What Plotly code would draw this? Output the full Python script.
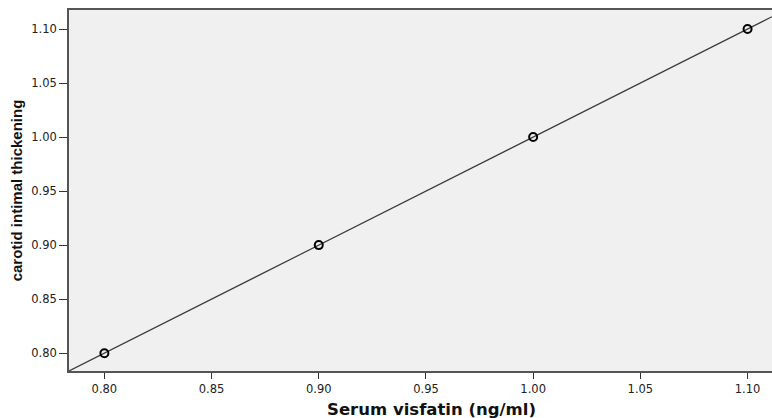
import numpy as np
import plotly.graph_objects as go

serum_visfatin = [0.80, 0.90, 1.00, 1.10]
carotid_thickening = [0.80, 0.90, 1.00, 1.10]
tick_vals = [0.80, 0.85, 0.90, 0.95, 1.00, 1.05, 1.10]
tick_text = ["0.80", "0.85", "0.90", "0.95", "1.00", "1.05", "1.10"]
x_title = "Serum visfatin (ng/ml)"
y_title = "carotid intimal thickening"

x_range = [0.7835, 1.1114]
y_range = [0.7835, 1.1176]

slope, intercept = np.polyfit(serum_visfatin, carotid_thickening, 1)
fit_x = np.array(x_range)
fit_y = slope * fit_x + intercept

fig = go.Figure()
fig.add_trace(go.Scatter(x=fit_x, y=fit_y, mode="lines",
                         line=dict(color="#3a3a3a", width=1.2),
                         hoverinfo="skip", showlegend=False))
fig.add_trace(go.Scatter(x=serum_visfatin, y=carotid_thickening, mode="markers",
                         marker=dict(symbol="circle-open", size=8, color="black",
                                     line=dict(width=2, color="black")),
                         showlegend=False))

tick_font = dict(family="DejaVu Sans, Verdana, sans-serif", size=11.5, color="#222222")
axis_common = dict(showgrid=False, zeroline=False, showline=True,
                   linecolor="#555555", linewidth=1.8, ticks="outside",
                   tickwidth=1.2, tickcolor="#333333",
                   tickvals=tick_vals, ticktext=tick_text, tickfont=tick_font)

fig.update_layout(
    width=772, height=418,
    margin=dict(l=69, r=0, t=10, b=47, autoexpand=False),
    paper_bgcolor="white", plot_bgcolor="#F0F0F0",
    xaxis=dict(range=x_range, mirror=True, ticklen=6, **axis_common),
    yaxis=dict(range=y_range, ticklen=8,
               title=dict(text="<b>" + y_title + "</b>", standoff=5,
                          font=dict(family="Liberation Sans, Arial, sans-serif", size=15, color="#111111")),
               **axis_common),
    annotations=[dict(text="<b>" + x_title + "</b>", xref="paper", yref="paper",
                      x=0.516, y=-0.1065, xanchor="center", yanchor="middle",
                      showarrow=False,
                      font=dict(family="DejaVu Sans, Verdana, sans-serif", size=16.5, color="#111111"))],
)

fig.write_html("out.html", config={"displayModeBar": False},
               post_script="document.body.style.margin='0';document.body.style.overflow='hidden';")
